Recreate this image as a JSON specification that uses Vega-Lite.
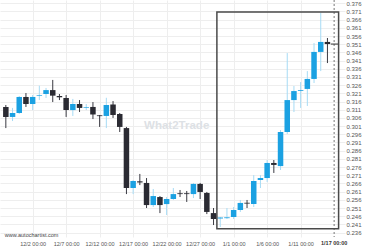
{
  "$schema": "https://vega.github.io/schema/vega-lite/v6.json",
  "width": 345,
  "height": 237,
  "autosize": "none",
  "padding": {"left": 0, "top": 0, "right": 35, "bottom": 13},
  "background": "white",
  "config": {"view": {"stroke": null}, "font": "Liberation Sans"},
  "datasets": {
    "candles": [
      {"d": "2024-11-28T00:00", "o": 0.3127, "c": 0.3066, "h": 0.3139, "l": 0.2998},
      {"d": "2024-11-29T00:00", "o": 0.3066, "c": 0.3090, "h": 0.3121, "l": 0.3041},
      {"d": "2024-11-30T00:00", "o": 0.3090, "c": 0.3188, "h": 0.3194, "l": 0.3084},
      {"d": "2024-12-01T00:00", "o": 0.3188, "c": 0.3145, "h": 0.3212, "l": 0.3127},
      {"d": "2024-12-02T00:00", "o": 0.3145, "c": 0.3188, "h": 0.3200, "l": 0.3108},
      {"d": "2024-12-03T00:00", "o": 0.3194, "c": 0.3198, "h": 0.3257, "l": 0.3169},
      {"d": "2024-12-04T00:00", "o": 0.3206, "c": 0.3230, "h": 0.3243, "l": 0.3182},
      {"d": "2024-12-05T00:00", "o": 0.3230, "c": 0.3196, "h": 0.3292, "l": 0.3157},
      {"d": "2024-12-06T00:00", "o": 0.3194, "c": 0.3186, "h": 0.3206, "l": 0.3169},
      {"d": "2024-12-07T00:00", "o": 0.3182, "c": 0.3108, "h": 0.3200, "l": 0.3066},
      {"d": "2024-12-08T00:00", "o": 0.3108, "c": 0.3145, "h": 0.3176, "l": 0.3072},
      {"d": "2024-12-09T00:00", "o": 0.3145, "c": 0.3121, "h": 0.3169, "l": 0.3096},
      {"d": "2024-12-10T00:00", "o": 0.3121, "c": 0.3125, "h": 0.3145, "l": 0.3108},
      {"d": "2024-12-11T00:00", "o": 0.3127, "c": 0.3081, "h": 0.3157, "l": 0.3053},
      {"d": "2024-12-12T00:00", "o": 0.3076, "c": 0.3071, "h": 0.3078, "l": 0.3005},
      {"d": "2024-12-13T00:00", "o": 0.3072, "c": 0.3139, "h": 0.3183, "l": 0.2998},
      {"d": "2024-12-14T00:00", "o": 0.3142, "c": 0.3078, "h": 0.3163, "l": 0.3060},
      {"d": "2024-12-15T00:00", "o": 0.3084, "c": 0.3005, "h": 0.3090, "l": 0.2974},
      {"d": "2024-12-16T00:00", "o": 0.2998, "c": 0.2632, "h": 0.3005, "l": 0.2595},
      {"d": "2024-12-17T00:00", "o": 0.2632, "c": 0.2675, "h": 0.2681, "l": 0.2595},
      {"d": "2024-12-18T00:00", "o": 0.2673, "c": 0.2666, "h": 0.2718, "l": 0.2650},
      {"d": "2024-12-19T00:00", "o": 0.2663, "c": 0.2528, "h": 0.2693, "l": 0.2510},
      {"d": "2024-12-20T00:00", "o": 0.2528, "c": 0.2583, "h": 0.2626, "l": 0.2516},
      {"d": "2024-12-21T00:00", "o": 0.2577, "c": 0.2528, "h": 0.2583, "l": 0.2479},
      {"d": "2024-12-22T00:00", "o": 0.2534, "c": 0.2565, "h": 0.2577, "l": 0.2467},
      {"d": "2024-12-23T00:00", "o": 0.2565, "c": 0.2595, "h": 0.2632, "l": 0.2559},
      {"d": "2024-12-24T00:00", "o": 0.2600, "c": 0.2595, "h": 0.2620, "l": 0.2577},
      {"d": "2024-12-25T00:00", "o": 0.2600, "c": 0.2595, "h": 0.2614, "l": 0.2547},
      {"d": "2024-12-26T00:00", "o": 0.2595, "c": 0.2657, "h": 0.2663, "l": 0.2571},
      {"d": "2024-12-27T00:00", "o": 0.2657, "c": 0.2608, "h": 0.2663, "l": 0.2565},
      {"d": "2024-12-28T00:00", "o": 0.2602, "c": 0.2486, "h": 0.2608, "l": 0.2473},
      {"d": "2024-12-29T00:00", "o": 0.2479, "c": 0.2443, "h": 0.2510, "l": 0.2406},
      {"d": "2024-12-30T00:00", "o": 0.2446, "c": 0.2452, "h": 0.2455, "l": 0.2394},
      {"d": "2024-12-31T00:00", "o": 0.2448, "c": 0.2453, "h": 0.2510, "l": 0.2443},
      {"d": "2025-01-01T00:00", "o": 0.2455, "c": 0.2498, "h": 0.2516, "l": 0.2443},
      {"d": "2025-01-02T00:00", "o": 0.2498, "c": 0.2541, "h": 0.2559, "l": 0.2486},
      {"d": "2025-01-03T00:00", "o": 0.2542, "c": 0.2537, "h": 0.2559, "l": 0.2510},
      {"d": "2025-01-04T00:00", "o": 0.2534, "c": 0.2675, "h": 0.2711, "l": 0.2516},
      {"d": "2025-01-05T00:00", "o": 0.2681, "c": 0.2693, "h": 0.2711, "l": 0.2632},
      {"d": "2025-01-06T00:00", "o": 0.2693, "c": 0.2785, "h": 0.2803, "l": 0.2669},
      {"d": "2025-01-07T00:00", "o": 0.2785, "c": 0.2773, "h": 0.2803, "l": 0.2724},
      {"d": "2025-01-08T00:00", "o": 0.2766, "c": 0.2974, "h": 0.2986, "l": 0.2742},
      {"d": "2025-01-09T00:00", "o": 0.2974, "c": 0.3169, "h": 0.3456, "l": 0.2962},
      {"d": "2025-01-10T00:00", "o": 0.3169, "c": 0.3224, "h": 0.3255, "l": 0.3096},
      {"d": "2025-01-11T00:00", "o": 0.3225, "c": 0.3230, "h": 0.3279, "l": 0.3121},
      {"d": "2025-01-12T00:00", "o": 0.3237, "c": 0.3298, "h": 0.3346, "l": 0.3133},
      {"d": "2025-01-13T00:00", "o": 0.3298, "c": 0.3463, "h": 0.3517, "l": 0.3273},
      {"d": "2025-01-14T00:00", "o": 0.3463, "c": 0.3524, "h": 0.3701, "l": 0.3346},
      {"d": "2025-01-15T00:00", "o": 0.3524, "c": 0.3511, "h": 0.3548, "l": 0.3395}
    ]
  },
  "layer": [
    {
      "data": {"name": "candles"},
      "mark": {"type": "rule", "strokeWidth": 1},
      "encoding": {
        "x": {"field": "d", "type": "temporal",
          "scale": {"domain": [{"year": 2024, "month": 11, "date": 27, "hours": 21}, {"year": 2025, "month": 1, "date": 16, "hours": 21}]},
          "axis": {
            "values": [
              {"year": 2024, "month": 12, "date": 2}, {"year": 2024, "month": 12, "date": 7},
              {"year": 2024, "month": 12, "date": 12}, {"year": 2024, "month": 12, "date": 17},
              {"year": 2024, "month": 12, "date": 22}, {"year": 2024, "month": 12, "date": 27},
              {"year": 2025, "month": 1, "date": 1}, {"year": 2025, "month": 1, "date": 6},
              {"year": 2025, "month": 1, "date": 11}
            ],
            "tickCount": 30,
            "format": "%-m/%-d %H:%M", "title": null, "domain": false, "ticks": false,
            "labelPadding": 4, "labelFontSize": 5.5, "labelColor": "#555", "labelFont": "Liberation Sans",
            "grid": true, "gridColor": "#eeeeee", "gridWidth": 1
          }
        },
        "y": {"field": "l", "type": "quantitative",
          "scale": {"domain": [0.2333, 0.378], "zero": false, "nice": false},
          "axis": {
            "orient": "right", "title": null, "domain": false, "ticks": false,
            "values": [0.236,0.241,0.246,0.251,0.256,0.261,0.266,0.271,0.276,0.281,0.286,0.291,0.296,0.301,0.306,0.311,0.316,0.321,0.326,0.331,0.336,0.341,0.346,0.351,0.356,0.361,0.366,0.371,0.376],
            "tickCount": 60,
            "format": ".3f", "labelPadding": 1, "labelFontSize": 6, "labelColor": "#555", "labelFont": "Liberation Sans",
            "labelOverlap": false, "labelBound": false,
            "grid": true, "gridColor": "#eeeeee", "gridWidth": 1
          }
        },
        "y2": {"field": "h"},
        "color": {"condition": {"test": "datum.c >= datum.o", "value": "#a6dbf5"}, "value": "#3a3a42"}
      }
    },
    {
      "data": {"name": "candles"},
      "mark": {"type": "bar", "size": 5.5},
      "encoding": {
        "x": {"field": "d", "type": "temporal"},
        "y": {"field": "o", "type": "quantitative"},
        "y2": {"field": "c"},
        "color": {"condition": {"test": "datum.c >= datum.o", "value": "#1ba1e2"}, "value": "#2b2b33"}
      }
    },
    {
      "data": {"values": [{"d": "2025-01-16T00:00"}]},
      "mark": {"type": "rule", "color": "#777", "strokeDash": [2, 2], "strokeWidth": 1},
      "encoding": {"x": {"field": "d", "type": "temporal"}}
    },
    {
      "data": {"values": [{"d": "2025-01-15T12:00", "d2": "2025-01-16T16:00", "p": 0.3511}]},
      "mark": {"type": "rule", "color": "#333", "strokeWidth": 1},
      "encoding": {
        "x": {"field": "d", "type": "temporal"},
        "x2": {"field": "d2"},
        "y": {"field": "p", "type": "quantitative"}
      }
    },
    {
      "data": {"values": [{"d": "2024-12-29T12:00", "d2": "2025-01-16T16:00", "p1": 0.2383, "p2": 0.3707}]},
      "mark": {"type": "rect", "fill": null, "fillOpacity": 0, "stroke": "#4a4a4a", "strokeWidth": 1.5},
      "encoding": {
        "x": {"field": "d", "type": "temporal"},
        "x2": {"field": "d2"},
        "y": {"field": "p1", "type": "quantitative"},
        "y2": {"field": "p2"}
      }
    },
    {
      "data": {"values": [{"d": "2024-12-23T12:00", "p": 0.3011, "t": "What2Trade"}]},
      "mark": {"type": "text", "font": "Liberation Sans", "fontSize": 11.5, "fontWeight": "bold", "color": "#dde1e5", "align": "center", "baseline": "middle"},
      "encoding": {
        "x": {"field": "d", "type": "temporal"},
        "y": {"field": "p", "type": "quantitative"},
        "text": {"field": "t"}
      }
    },
    {
      "data": {"values": [{"d": "2024-11-27T20:30", "p": 0.2345, "t": "www.autochartist.com"}]},
      "mark": {"type": "text", "font": "Liberation Sans", "fontSize": 5.5, "color": "#444", "align": "left", "baseline": "middle"},
      "encoding": {
        "x": {"field": "d", "type": "temporal"},
        "y": {"field": "p", "type": "quantitative"},
        "text": {"field": "t"}
      }
    },
    {
      "data": {"values": [{"d": "2025-01-16T00:00", "p": 0.2333, "t": "1/17 00:00"}]},
      "mark": {"type": "text", "font": "Liberation Sans", "fontSize": 5.5, "fontWeight": "bold", "color": "#333", "align": "center", "baseline": "top", "dy": 4},
      "encoding": {
        "x": {"field": "d", "type": "temporal"},
        "y": {"field": "p", "type": "quantitative"},
        "text": {"field": "t"}
      }
    }
  ]
}
